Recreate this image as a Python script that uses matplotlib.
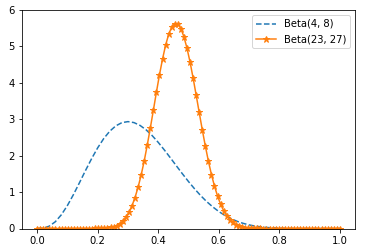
import numpy as np
import matplotlib
matplotlib.use("Agg")
import matplotlib.pyplot as plt

# Beta(4, 8) curve, read every 0.02
x_a = np.linspace(0, 1, 51)
y_a = [0.0, 0.009, 0.064, 0.185, 0.377, 0.631, 0.932, 1.260, 1.596, 1.919,
       2.215, 2.470, 2.673, 2.819, 2.907, 2.935, 2.908, 2.830, 2.709, 2.551,
       2.365, 2.159, 1.942, 1.720, 1.501, 1.289, 1.090, 0.905, 0.739, 0.594,
       0.467, 0.359, 0.271, 0.199, 0.143, 0.099, 0.066, 0.043, 0.027, 0.016,
       0.009, 0.004, 0.002, 0.001, 0.0, 0.0, 0.0, 0.0, 0.0, 0.0, 0.0]

# Beta(23, 27) curve, 100 points on [0, 1]
x_b = np.linspace(0, 1, 100)
y_b = [0.0] * 19 + [
    0.001, 0.002, 0.004, 0.008, 0.016, 0.028, 0.049, 0.082, 0.131, 0.203,
    0.304, 0.441, 0.621, 0.848, 1.130, 1.463, 1.848, 2.285, 2.754, 3.242,
    3.740, 4.217, 4.651, 5.029, 5.329, 5.530, 5.625, 5.613, 5.491, 5.265,
    4.953, 4.574, 4.134, 3.667, 3.187, 2.713, 2.266, 1.852, 1.482, 1.162,
    0.891, 0.667, 0.488, 0.349, 0.243, 0.165, 0.109, 0.071, 0.044, 0.027,
    0.016, 0.009, 0.005, 0.003, 0.001] + [0.0] * 26

fig = plt.figure(figsize=(366 / 72, 252 / 72), dpi=72)
ax = fig.add_axes([22 / 366, 1 - 228.5 / 252, 333 / 366, 218.5 / 252])

ax.plot(x_a, y_a, '--', color='#1f77b4', label='Beta(4, 8)')
ax.plot(x_b, y_b, '-*', color='#ff7f0e', markersize=7, label='Beta(23, 27)')

ax.set_ylim(0, 6)
ax.set_xlim(-0.05, 1.05)
ax.set_xticks([0.0, 0.2, 0.4, 0.6, 0.8, 1.0])
ax.tick_params(labelsize=10)
ax.legend(loc='upper right', fontsize=10)

fig.savefig('out.png', dpi=72)
